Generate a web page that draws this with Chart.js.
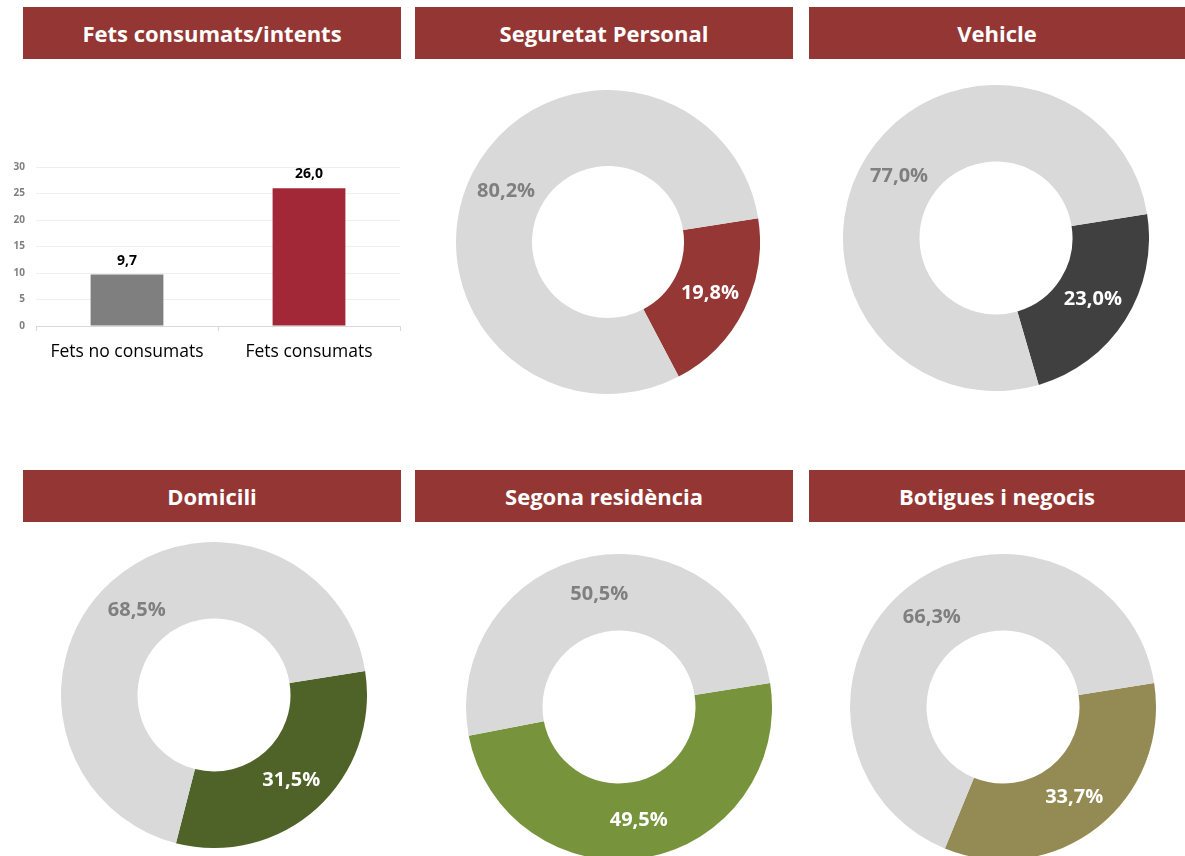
<!DOCTYPE html>
<html>
<head>
<meta charset="utf-8">
<script src="https://cdn.jsdelivr.net/npm/chart.js@4.4.1/dist/chart.umd.min.js"></script>
<style>
  html, body { margin: 0; padding: 0; background: #fff; }
  body { width: 1185px; height: 856px; position: relative; overflow: hidden; font-family: "Open Sans", sans-serif; }
  .cap { position: absolute; background: #943634; color: #fff; font-weight: 700; font-size: 22px; text-align: center; }
  .box { position: absolute; }
</style>
</head>
<body>
<script>
// Dades
const panelTitles = ['Fets consumats/intents', 'Seguretat Personal', 'Vehicle', 'Domicili', 'Segona residència', 'Botigues i negocis'];
const barCategories = ['Fets no consumats', 'Fets consumats'];
const barValues = [9.7, 26.0];
const yTickMax = 30;
const yTickStep = 5;
const donutShares = [19.8, 23.0, 31.5, 49.5, 33.7];
const donutRest = [80.2, 77.0, 68.5, 50.5, 66.3];
const donutColors = ['#953735', '#404040', '#4f6228', '#77933c', '#948a54'];

// Posicions de les capçaleres i dels anells
const capBoxes = [
  [23, 7, 378, 52], [415, 7, 378, 52], [809, 7, 376, 52],
  [23, 470, 378, 52], [415, 470, 378, 52], [809, 470, 376, 52]
];
const ringBoxes = [
  [608, 242, 152], [996, 238, 153],
  [214, 695, 153], [619, 707, 153], [1003, 707, 153]
];

const fmt = v => v.toFixed(1).replace('.', ',');

capBoxes.forEach((b, i) => {
  const d = document.createElement('div');
  d.className = 'cap';
  d.style.left = b[0] + 'px'; d.style.top = b[1] + 'px';
  d.style.width = b[2] + 'px'; d.style.height = b[3] + 'px';
  d.style.lineHeight = b[3] + 'px';
  d.textContent = panelTitles[i];
  document.body.appendChild(d);
});

function addCanvas(x, y, w, h) {
  const div = document.createElement('div');
  div.className = 'box';
  div.style.left = x + 'px'; div.style.top = y + 'px';
  div.style.width = w + 'px'; div.style.height = h + 'px';
  const c = document.createElement('canvas');
  div.appendChild(c);
  document.body.appendChild(div);
  return c;
}

// Gràfic de barres
const barLabels = {
  id: 'barLabels',
  afterDatasetsDraw(chart) {
    const ctx = chart.ctx;
    const meta = chart.getDatasetMeta(0);
    ctx.save();
    ctx.font = 'bold 14px "Open Sans"';
    ctx.fillStyle = '#000';
    ctx.textAlign = 'center';
    ctx.textBaseline = 'alphabetic';
    meta.data.forEach((bar, i) => {
      ctx.fillText(fmt(barValues[i]), bar.x, bar.y - 10);
    });
    ctx.restore();
  }
};

new Chart(addCanvas(0, 150, 410, 230), {
  type: 'bar',
  data: {
    labels: barCategories,
    datasets: [{
      data: barValues,
      backgroundColor: ['#7f7f7f', '#a22838'],
      barPercentage: 0.4,
      categoryPercentage: 1
    }]
  },
  options: {
    responsive: true,
    maintainAspectRatio: false,
    animation: false,
    events: [],
    layout: { padding: { top: 14, right: 10, left: 0, bottom: 0 } },
    plugins: { legend: { display: false }, tooltip: { enabled: false } },
    scales: {
      x: {
        afterFit: s => { s.height = 54; },
        grid: { drawOnChartArea: false, drawTicks: true, tickLength: 5, color: '#d9d9d9' },
        border: { color: '#d9d9d9' },
        ticks: { color: '#000', padding: 11, font: { family: 'Open Sans', size: 17.5 } }
      },
      y: {
        min: 0, max: yTickMax,
        afterFit: s => { s.width = 36; },
        grid: { color: '#efefef', drawTicks: false },
        border: { display: false },
        ticks: { stepSize: yTickStep, color: '#7f7f7f', padding: 11, font: { family: 'Open Sans', size: 10, weight: 'bold' } }
      }
    }
  },
  plugins: [barLabels]
});

// Anells
const ringLabels = {
  id: 'ringLabels',
  afterDatasetsDraw(chart) {
    const ctx = chart.ctx;
    const meta = chart.getDatasetMeta(0);
    const vals = chart.data.datasets[0].data;
    ctx.save();
    ctx.font = 'bold 20px "Open Sans"';
    ctx.textAlign = 'center';
    ctx.textBaseline = 'middle';
    meta.data.forEach((arc, i) => {
      const p = arc.tooltipPosition(true);
      ctx.fillStyle = i === 0 ? '#ffffff' : '#7f7f7f';
      ctx.fillText(fmt(vals[i]) + '%', p.x, p.y);
    });
    ctx.restore();
  }
};

ringBoxes.forEach((b, i) => {
  const r = b[2];
  new Chart(addCanvas(b[0] - r, b[1] - r, 2 * r, 2 * r), {
    type: 'doughnut',
    data: {
      labels: ['Sí', 'No'],
      datasets: [{
        data: [donutShares[i], donutRest[i]],
        backgroundColor: [donutColors[i], '#d9d9d9'],
        borderWidth: 0,
        hoverOffset: 0
      }]
    },
    options: {
      responsive: true,
      maintainAspectRatio: false,
      animation: false,
      events: [],
      cutout: '50%',
      rotation: 81,
      plugins: { legend: { display: false }, tooltip: { enabled: false } }
    },
    plugins: [ringLabels]
  });
});
</script>
</body>
</html>
